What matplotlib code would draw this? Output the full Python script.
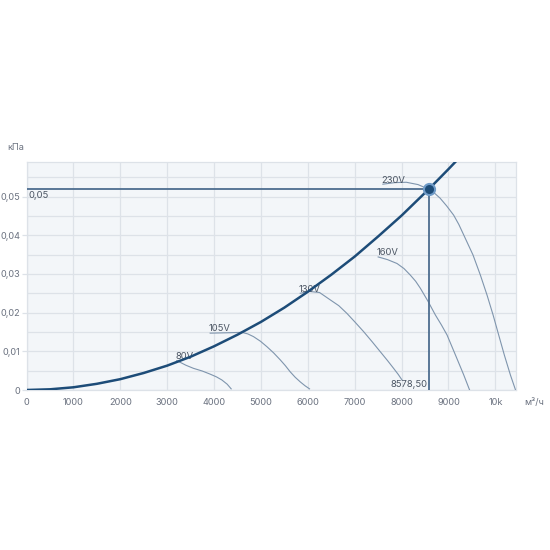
import numpy as np
import matplotlib
matplotlib.use('Agg')
import matplotlib.pyplot as plt
from matplotlib.ticker import FixedLocator, FuncFormatter

plt.rcParams['font.family'] = ['Inter', 'DejaVu Sans']

# system curve
sysX = [0, 500, 1000, 1500, 2000, 2500, 3000, 3500, 4000, 4500, 5000, 5500,
        6000, 6500, 7000, 7500, 8000, 8578.5, 9000, 9150]
sysY = [0, 0.00018, 0.0007, 0.0016, 0.0028, 0.0044, 0.0063, 0.0086, 0.0113,
        0.0143, 0.0176, 0.0213, 0.0254, 0.0298, 0.0345, 0.0397, 0.0451,
        0.0519, 0.0571, 0.0590]

# fan curves per voltage
fanLabels = ['80V', '105V', '130V', '160V', '230V']
fanX = [
    [3206, 3400, 3561, 3750, 3917, 4050, 4166, 4280, 4365],
    [3917, 4300, 4593, 4720, 4841, 4990, 5127, 5270, 5411, 5520, 5624, 5730, 5838, 5940, 6036],
    [5838, 6015, 6250, 6478, 6660, 6834, 7010, 7189, 7370, 7545, 7700, 7829, 7930, 8008],
    [7500, 7700, 7902, 8050, 8186, 8300, 8400, 8560, 8720, 8850, 8970, 9150, 9325, 9450],
    [7600, 7850, 8100, 8350, 8578.5, 8700, 8820, 8960, 9110, 9220, 9324, 9523, 9680, 9823,
     9951, 10071, 10192, 10320, 10430],
]
fanY = [
    [0.0076, 0.0064, 0.0056, 0.0049, 0.0041, 0.0034, 0.0026, 0.0015, 0.0003],
    [0.0147, 0.0148, 0.0149, 0.0145, 0.0138, 0.0126, 0.0112, 0.0096, 0.0078, 0.0063, 0.0047,
     0.0033, 0.0021, 0.0011, 0.0003],
    [0.0250, 0.0255, 0.0252, 0.0233, 0.0218, 0.0198, 0.0175, 0.0151, 0.0125, 0.0099, 0.0076,
     0.0056, 0.0040, 0.0026],
    [0.0344, 0.0337, 0.0327, 0.0314, 0.0297, 0.0281, 0.0263, 0.0230, 0.0194, 0.0168, 0.0142,
     0.0090, 0.0039, 0.0],
    [0.0532, 0.0536, 0.0537, 0.0531, 0.0519, 0.0509, 0.0496, 0.0476, 0.0452, 0.0428, 0.0401,
     0.0349, 0.0297, 0.0245, 0.0194, 0.0142, 0.0090, 0.0039, 0.0],
]

opX = 8578.5
opY = 0.0519

xTicks = [0, 1000, 2000, 3000, 4000, 5000, 6000, 7000, 8000, 9000, 10000]
xTickLabels = ['0', '1000', '2000', '3000', '4000', '5000', '6000', '7000',
               '8000', '9000', '10k']
yTicks = [0, 0.01, 0.02, 0.03, 0.04, 0.05]

textCol = '#6b7280'
gridCol = '#dde2e8'

fig = plt.figure(figsize=(5.5, 5.5), dpi=100)
ax = fig.add_axes([0.0482, 0.2909, 0.89, 0.415])
ax.set_facecolor('#f3f6f9')
ax.set_xlim(0, 10440)
ax.set_ylim(0, 0.059)

ax.xaxis.set_major_locator(FixedLocator(xTicks))
ax.set_xticklabels(xTickLabels)
ax.yaxis.set_major_locator(FixedLocator(yTicks))
ax.yaxis.set_minor_locator(FixedLocator([0.005, 0.015, 0.025, 0.035, 0.045, 0.055]))
ax.yaxis.set_major_formatter(FuncFormatter(lambda v, p: '0' if v == 0 else ('%.2f' % v).replace('.', ',')))

ax.grid(True, which='major', color=gridCol, lw=0.9)
ax.grid(True, which='minor', axis='y', color=gridCol, lw=0.9)
ax.set_axisbelow(True)
ax.tick_params(which='both', labelsize=6.6, colors=textCol)
ax.tick_params(axis='x', length=0, pad=6)
ax.tick_params(axis='y', which='major', length=3.5, width=0.9, color=gridCol, pad=1)
ax.tick_params(axis='y', which='minor', length=0)
for s in ax.spines.values():
    s.set_color(gridCol)
    s.set_linewidth(0.9)

# fan curves
for lab, fx, fy in zip(fanLabels, fanX, fanY):
    ax.plot(fx, fy, color='#7f95ad', lw=0.8, solid_joinstyle='round', zorder=3)
    ax.annotate(lab, (fx[0], fy[0]), xytext=(-1, 3), textcoords='offset points',
                ha='left', va='center', fontsize=6.8, color='#4b5563', zorder=5)

# operating point lines
ax.plot([0, opX], [opY, opY], color='#4d6d8f', lw=1.3, zorder=4)
ax.plot([opX, opX], [0, opY], color='#4d6d8f', lw=1.3, zorder=4)

# system curve
ax.plot(sysX, sysY, color='#1d4c78', lw=1.8, solid_joinstyle='round', zorder=5)

ax.plot([opX], [opY], 'o', ms=8, mfc='#1d4c78', mec='#6f9bc8', mew=1.5, zorder=6)

ax.text(40, opY - 0.0004, '0,05', ha='left', va='top', fontsize=6.8, color='#4b5563')
ax.text(opX - 30, 0.0003, '8578,50', ha='right', va='bottom', fontsize=6.8, color='#4b5563')

fig.text(7 / 550, 1 - 147 / 550, 'кПа', ha='left', va='center', fontsize=6.6, color=textCol)
fig.text(524 / 550, 1 - 403 / 550, 'м³/ч', ha='left', va='center', fontsize=6.6, color=textCol)

fig.savefig('out.png', dpi=100, facecolor='white')
